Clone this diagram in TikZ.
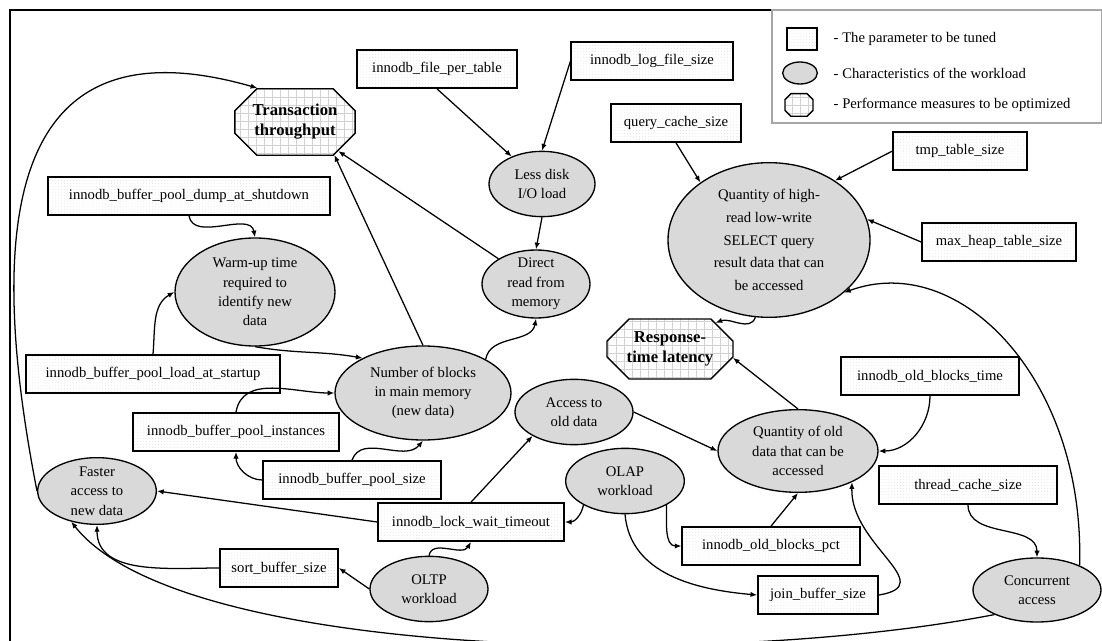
\documentclass[tikz,border=0pt]{standalone}
\usepackage{fontspec}
\setmainfont{Liberation Serif}
\usetikzlibrary{shapes.geometric, shapes.misc, arrows.meta, patterns.meta}

\begin{document}
\begin{tikzpicture}[
  x=0.75pt, y=0.75pt,
  font=\fontsize{11}{14.5}\selectfont,
  param/.style ={rectangle, draw, line width=1.3pt, inner sep=0pt,
                 minimum height=28.5pt,
                 pattern={Dots[distance=2.2pt, radius=0.3pt]}, pattern color=gray!30},
  work/.style  ={ellipse, draw, line width=1pt, fill=gray!30,
                 inner sep=0pt, align=center},
  perf/.style  ={chamfered rectangle, chamfered rectangle xsep=8.25pt,
                 chamfered rectangle ysep=8.25pt, draw, line width=1pt,
                 pattern={Hatch[distance=6pt, line width=0.4pt]}, pattern color=gray!35,
                 align=center, font=\fontsize{12.5}{15}\selectfont\bfseries},
  flow/.style  ={-{Latex[length=5pt, width=4pt]}, line width=0.95pt}
]
\useasboundingbox (0,0) rectangle (1102,-641);

% ---------- Frame and legend ----------
\draw[line width=2.2pt] (10,-641) -- (10,-10) -- (1102,-10);
\node[draw=gray!70, line width=0.8pt, inner sep=0pt,
      minimum width=247.5pt, minimum height=84.75pt] (legend) at (937,-66.5) {};
\node[param, minimum width=22.5pt, minimum height=16.5pt] (lgpar)  at (802,-39) {};
\node[work,  minimum width=26pt,   minimum height=16.5pt] (lgwork) at (800,-73) {};
\node[perf, inner xsep=8.25pt, inner ysep=6.25pt,
      chamfered rectangle xsep=2.25pt, chamfered rectangle ysep=2.25pt] (lgperf) at (799,-105) {};
\node[anchor=west] (lgpartxt)  at (829,-39)  {- The parameter to be tuned};
\node[anchor=west] (lgworktxt) at (829,-73)  {- Characteristics of the workload};
\node[anchor=west] (lgperftxt) at (829,-105) {- Performance measures to be optimized};

% ---------- Performance measures ----------
\node[perf, inner xsep=5pt,   inner ysep=3.5pt]  (tt)  at (295,-122) {Transaction\\throughput};
\node[perf, inner xsep=6.5pt, inner ysep=1.25pt] (rtl) at (670,-349) {Response-\\time latency};

% ---------- Parameters ----------
\node[param, minimum width=120pt]   (pft)  at (437,-69)  {innodb\_file\_per\_table};
\node[param, minimum width=121pt]   (lfs)  at (652,-61)  {innodb\_log\_file\_size};
\node[param, minimum width=98pt]    (qcs)  at (676,-123) {query\_cache\_size};
\node[param, minimum width=100pt]   (tts)  at (960,-151) {tmp\_table\_size};
\node[param, minimum width=115.5pt] (mhs)  at (999,-242) {max\_heap\_table\_size};
\node[param, minimum width=211.5pt] (dump) at (189,-196) {innodb\_buffer\_pool\_dump\_at\_shutdown};
\node[param, minimum width=190pt]   (load) at (153,-374) {innodb\_buffer\_pool\_load\_at\_startup};
\node[param, minimum width=154pt]   (inst) at (236,-432) {innodb\_buffer\_pool\_instances};
\node[param, minimum width=133pt]   (bps)  at (352,-480) {innodb\_buffer\_pool\_size};
\node[param, minimum width=139.5pt] (lwt)  at (471,-522) {innodb\_lock\_wait\_timeout};
\node[param, minimum width=88.5pt]  (sbs)  at (279,-568) {sort\_buffer\_size};
\node[param, minimum width=133pt]   (obt)  at (930,-376) {innodb\_old\_blocks\_time};
\node[param, minimum width=133pt]   (obp)  at (771,-546) {innodb\_old\_blocks\_pct};
\node[param, minimum width=133pt]   (tcs)  at (968,-485) {thread\_cache\_size};
\node[param, minimum width=90pt]    (jbs)  at (818,-595) {join\_buffer\_size};

% ---------- Workload characteristics ----------
\node[work, minimum width=79.5pt,  minimum height=49pt]  (less)   at (542,-184)  {Less disk\\I/O load};
\node[work, minimum width=151.5pt, minimum height=116pt, font=\fontsize{11}{17}\selectfont] (hr) at (769,-240) {Quantity of high-\\read low-write\\SELECT query\\result data that can\\be accessed};
\node[work, minimum width=120pt,   minimum height=81pt]  (warm)   at (255,-292)  {Warm-up time\\required to\\identify new\\data};
\node[work, minimum width=81pt,    minimum height=51pt, inner ysep=-4pt] (direct) at (536,-284) {Direct\\read from\\memory};
\node[work, minimum width=132pt,   minimum height=70.5pt] (nb)    at (423,-393)  {Number of blocks\\in main memory\\(new data)};
\node[work, minimum width=88.5pt,  minimum height=49pt]  (old)    at (574,-412)  {Access to\\old data};
\node[work, minimum width=120pt,   minimum height=62pt]  (qold)   at (798,-451)  {Quantity of old\\data that can be\\accessed};
\node[work, minimum width=89pt,    minimum height=50pt, inner ysep=-4pt] (faster) at (97,-491) {Faster\\access to\\new data};
\node[work, minimum width=89pt,    minimum height=49pt]  (olap)   at (625,-481)  {OLAP\\workload};
\node[work, minimum width=88.5pt,  minimum height=49pt]  (oltp)   at (429,-589)  {OLTP\\workload};
\node[work, minimum width=96pt,    minimum height=48pt]  (conc)   at (1037,-590) {Concurrent\\access};

% ---------- Arrows ----------
\draw[flow] (pft.south)  -- (less);
\draw[flow] (lfs.west)   -- (less.north);
\draw[flow] (less.south) -- (direct.north);
\draw[flow] (direct)     -- (tt);
\draw[flow] (nb.north)   -- (tt.-40);
\draw[flow] (nb.north east) to[out=80,in=-100] (direct.south);
\draw[flow] (warm.south) to[out=-10,in=170]  (nb.150);
\draw[flow] (dump.south) to[out=-80,in=100]  (warm.north);
\draw[flow] (load.north) to[out=85,in=-150]  (warm.west);
\draw[flow] (inst.north) to[out=80,in=180]   (nb.west);
\draw[flow] (bps.north)  to[out=70,in=-130]  (nb.south);
\draw[flow] (bps.west)   to[out=180,in=-90]  (inst.south);
\draw[flow] (faster.west) .. controls (-20,-200) and (20,-20) .. (tt.138);

\draw[flow] (lwt.west)   -- (faster.east);
\draw[flow] (lwt.north)  -- (old.-150);
\draw[flow] (oltp.north) to[out=80,in=-120]  (lwt.south);
\draw[flow] (oltp.west)  -- (sbs.east);
\draw[flow] (sbs.west)   to[out=180,in=-90]  (faster.south);
\draw[flow] (conc.210) .. controls (720,-668) and (180,-660) .. (faster.-130);

\draw[flow] (olap.-150)  to[out=-100,in=0]   (lwt.east);
\draw[flow] (olap.-30)   to[out=-90,in=180]  (obp.west);
\draw[flow] (olap.south) to[out=-85,in=175]  (jbs.west);
\draw[flow] (old.east)   -- (qold.west);
\draw[flow] (obp.north)  -- (qold.south);
\draw[flow] (jbs.east) .. controls (940,-585) and (850,-545) .. (qold.-30);
\draw[flow] (obt.south)  to[out=-90,in=0]    (qold.east);
\draw[flow] (qold.north) -- (rtl.-8);

\draw[flow] (tcs.south)  to[out=-90,in=90]   (conc.north);
\draw[flow] (conc.30) .. controls (1085,-380) and (960,-250) .. (hr.-35);
\draw[flow] (hr.-100)    to[out=-110,in=20]  (rtl.30);
\draw[flow] (qcs.south)  -- (hr.140);
\draw[flow] (tts.west)   -- (hr.42);
\draw[flow] (mhs.west)   -- (hr.12);

\end{tikzpicture}
\end{document}
